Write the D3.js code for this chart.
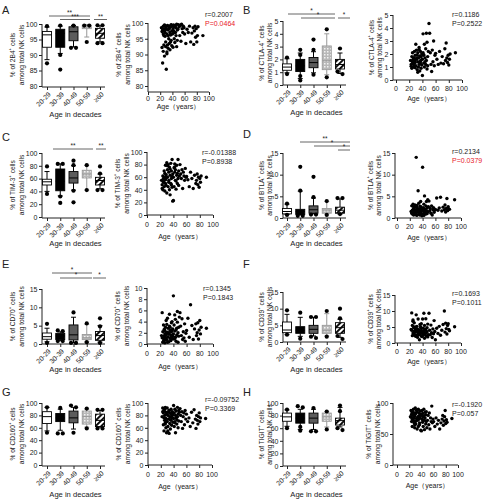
<!DOCTYPE html>
<html><head><meta charset="utf-8">
<script src="https://cdn.jsdelivr.net/npm/d3@7"></script>
<style>
body{margin:0;background:#fff}
svg{display:block}
text{font-family:"Liberation Sans",Arial,sans-serif;fill:#222}
</style>
</head><body><svg id="c" width="485" height="500"></svg>
<script>
// ---------------- DATA ----------------
const categories = ["20-29","30-39","40-49","50-59","≥60"];
const markers = ["2B4","CTLA-4","TIM-3","BTLA","CD70","CD39","CD160","TIGIT"];
const letters = ["A","B","C","D","E","F","G","H"];

const ages = [22,23,24,24,25,25,26,26,27,27,28,28,28,29,29,26,25,27,23,29,
  30,30,31,31,32,32,33,33,34,34,35,35,36,36,37,37,38,38,39,39,31,33,35,37,38,
  40,40,41,41,42,42,43,43,44,45,45,46,46,47,47,48,48,49,44,42,
  50,51,52,53,54,55,56,57,58,59,
  60,62,64,66,68,70,72,74,75,76,77,78,79,80,81,82,90];

const val2B4 = [98.5,92.2,97.8,87.3,96.5,99.0,93.0,98.2,97.5,89.5,99.2,95.8,97.0,92.5,98.8,96.0,91.0,99.4,97.3,94.0,
  98.0,85.3,90.2,96.5,99.2,93.0,97.8,92.0,98.5,95.0,99.0,93.5,97.0,91.5,98.8,96.2,94.5,99.3,92.8,97.5,90.8,96.0,98.2,94.0,99.5,
  99.0,96.5,98.2,92.3,97.5,99.4,95.0,98.8,93.8,97.0,99.2,96.0,98.5,92.5,99.6,97.8,94.5,98.0,99.1,96.8,
  99.5,98.8,96.0,99.2,94.2,99.6,98.2,97.0,99.0,98.5,
  96.5,93.5,98.0,97.0,99.0,94.0,96.8,98.5,93.2,97.5,99.0,95.5,98.2,94.0,96.0,98.8,96.0];
const valCTLA4 = [1.5,1.2,1.8,0.9,1.4,2.1,1.0,1.6,1.3,1.7,1.1,2.2,1.5,0.95,1.9,1.25,1.45,1.7,1.05,1.35,
  2.75,1.1,1.6,2.3,0.8,1.9,1.4,2.1,1.0,1.7,2.5,1.2,0.7,1.85,1.3,2.2,1.55,0.9,2.0,1.15,1.65,0.6,2.35,1.45,1.8,
  0.35,1.6,2.1,3.55,1.3,1.9,2.75,1.0,1.7,1.2,2.4,3.6,1.5,0.85,2.9,1.8,1.1,2.2,1.4,1.95,
  4.35,3.6,2.1,1.2,0.65,2.3,1.4,3.0,1.1,1.9,
  2.05,1.6,1.2,2.2,1.3,1.8,1.25,2.4,1.5,2.85,1.7,1.35,1.9,1.15,1.6,2.0,2.1];
const valTIM3 = [55,48,62,40,58,52,70,45,60,38,56,79,50,64,47,57,53,66,42,59,
  83,35,60,72,45,80,55,68,40,76,63,32,82,50,70,58,88,44,65,22,78,52,73,48,61,
  23,60,75,45,68,81,55,72,41,63,79,50,66,58,88,47,70,62,54,76,
  80,65,58,72,42,68,62,55,74,60,
  61,56,45,68,58,42,63,50,55,65,48,60,44,58,52,62,60];
const valBTLA = [1.5,2.8,0.9,1.8,3.2,1.2,2.2,0.7,1.6,2.5,1.0,1.9,3.0,1.3,0.8,2.1,1.4,2.6,1.1,1.7,
  1.2,14.0,2.5,0.6,1.8,2.2,6.3,1.5,3.4,0.9,2.0,1.3,2.7,0.7,1.7,3.8,1.1,2.3,0.5,1.9,2.9,1.4,0.8,2.6,1.6,
  11.7,1.9,2.4,0.8,3.2,1.5,5.1,2.1,1.2,2.8,0.9,1.7,3.8,2.3,1.0,1.4,4.2,2.6,1.8,0.6,
  3.9,1.6,2.2,1.1,2.8,0.7,1.9,2.4,1.3,1.8,
  2.0,4.6,1.8,2.3,4.8,1.6,2.5,1.9,3.0,1.4,2.2,4.5,1.7,2.6,2.1,2.0,4.2];
const valCD70 = [1.5,5.6,0.3,2.2,1.0,3.4,0.6,2.6,1.8,0.2,1.2,3.0,0.8,2.0,4.2,1.4,0.5,2.4,1.1,1.7,
  3.5,0.8,2.1,4.6,1.3,2.8,0.4,1.9,3.2,5.3,1.0,2.4,0.6,1.6,3.8,2.2,0.9,4.0,1.4,2.7,0.3,1.8,3.0,1.2,2.5,
  8.6,1.8,3.4,0.9,5.2,2.3,1.2,4.4,0.5,2.8,1.6,3.9,5.8,2.0,0.3,3.0,1.4,4.8,2.5,1.0,
  5.6,3.2,1.5,4.5,0.8,2.2,1.1,3.6,0.5,1.9,
  2.4,4.6,1.2,7.0,3.3,0.8,2.7,3.6,1.5,2.0,3.8,0.9,2.5,4.2,1.8,3.0,2.8];
const valCD39 = [4.2,9.4,2.3,5.5,3.1,7.2,2.8,4.8,3.6,6.3,2.5,3.9,5.0,2.1,4.5,3.3,6.8,2.7,4.0,3.5,
  8.8,2.4,3.8,5.2,1.8,4.4,3.0,7.5,2.6,4.0,3.4,1.0,5.8,2.9,3.6,4.8,2.2,6.0,3.2,2.0,4.2,3.5,2.7,5.0,3.9,
  7.5,3.0,4.6,2.4,9.3,3.7,1.5,5.5,2.8,4.1,7.6,3.3,2.2,4.8,3.5,1.9,5.9,2.6,4.3,3.1,
  9.3,4.0,2.6,5.6,3.2,1.7,4.4,2.9,7.0,3.6,
  1.0,4.6,3.0,5.2,2.4,4.0,5.8,10.0,3.4,6.2,4.5,2.8,5.5,6.0,4.2,3.8,5.1];
const valCD160 = [78,92,65,84,55,88,72,80,68,93,75,85,60,82,70,90,76,66,86,52,
  92,70,80,62,85,74,51,88,78,67,83,58,90,72,79,64,86,76,69,81,55,87,73,77,82,
  96,75,84,62,90,70,80,52,87,73,66,93,78,82,60,88,71,85,76,68,
  91,80,70,86,59,78,84,65,88,74,
  82,70,76,62,85,68,89,74,59,80,72,66,78,84,70,76,75];
const valTIGIT = [78,88,70,82,62,85,75,80,72,90,68,84,76,79,65,86,73,81,77,60,
  92,70,83,66,88,75,58,86,78,72,90,62,84,74,80,68,87,76,56,82,71,89,77,65,81,
  55,80,74,88,69,83,62,78,90,72,57,85,76,66,81,70,86,60,79,73,
  72,80,65,84,58,76,70,95,68,74,
  70,62,76,66,72,58,68,74,80,64,71,78,88,67,73,69,75];

// box stats per age group: [whisker low, Q1, median, Q3, whisker high]
const box2B4 = [[88.5,92.5,96.5,97.6,99.0],[90.5,92.5,97.0,98.3,99.3],[92.6,94.6,97.5,99.1,99.5],[95.8,98.5,99.0,99.6,99.8],[94.2,95.4,97.0,98.6,99.4]];
const out2B4 = [[99.3,87.3],[99.5,90.0,85.3],[99.5,92.3,92.3],[99.5,99.5,94.2],[99.6,99.6,93.8,93.8]];
const boxCTLA4 = [[0.95,1.15,1.4,1.65,2.05],[0.5,1.05,1.5,2.0,2.5],[0.95,1.35,1.75,2.15,2.6],[0.8,1.2,1.9,3.05,4.0],[0.9,1.25,1.6,2.0,2.5]];
const outCTLA4 = [[2.15,0.85],[2.75,2.35,0.7,0.35],[3.55,2.75,0.8],[4.35,0.6],[2.85,1.05,0.85]];
const boxTIM3 = [[40,50,55,59,71],[33,41,56,75,83],[42,53,61,71,80],[42,61,67,73,81],[44,50,57,62,67]];
const outTIM3 = [[79,36],[83,83,32,22],[88,81,41,23],[81,42],[79,68,42,42]];
const boxBTLA = [[0.8,0.95,1.5,2.2,3.2],[0.7,0.8,1.5,2.0,6.2],[1.0,1.1,1.9,2.8,4.6],[0.9,1.1,1.8,2.2,3.8],[0.9,1.1,1.8,2.5,4.4]];
const outBTLA = [[3.3,0.7],[11.8,6.3,0.5,0.5],[9.5,4.8,0.8,0.8],[3.9,0.7],[4.6,4.6,0.9]];
const boxCD70 = [[0.6,1.3,2.0,3.0,4.3],[0.9,1.2,2.2,2.9,3.3],[0.4,1.1,2.5,5.2,7.3],[0.7,1.2,1.7,2.6,5.4],[0.5,1.0,2.3,3.4,5.0]];
const outCD70 = [[5.5,0.3],[3.7,3.5,0.8,0.8],[8.6,0.3,0.3],[5.6,0.5],[7.0,4.8,0.3]];
const boxCD39 = [[2.2,2.8,3.6,6.0,8.3],[1.7,2.6,3.5,4.6,7.4],[1.8,2.6,3.8,5.0,7.4],[1.8,2.6,3.5,5.0,8.5],[1.4,2.6,4.3,5.8,6.8]];
const outCD39 = [[9.5,2.2],[8.8,1.0],[7.5,7.5,1.6,1.2],[9.3,1.6],[10.0,7.1,1.8,0.9]];
const boxCD160 = [[55,67,78,86,93],[56,70,76,83,90],[58,68,76,87,93],[61,66,78,87,90],[61,62,72,82,88]];
const outCD160 = [[93,52],[92,51,51],[96,93,52],[91,59],[89,89,59,59]];
const boxTIGIT = [[63,71,78,84,89],[58,68,76,84,90],[58,68,76,84,90],[62,71,78,84,86],[62,65,72,76,93]];
const outTIGIT = [[89.5,60],[95,93,62,56],[92,55,55],[86.5,58],[96,87,60,57]];

// significance labels
const sig2B4 = ["**","***","**"];
const sigCTLA4 = ["*","*","*"];
const sigTIM3 = ["**","**"];
const sigBTLA = ["**","*","*"];
const sigCD70 = ["*","*","*"];

// correlation texts
const rTexts = ["r=0.2007","r=0.1186","r=-0.01388","r=0.2134","r=0.1345","r=0.1693","r=-0.09752","r=-0.1920"];
const pTexts = ["P=0.0464","P=0.2522","P=0.8938","P=0.0379","P=0.1843","P=0.1011","P=0.3369","P=0.057"];
const pSignificant = [true,false,false,true,false,false,false,false];

// tick values
const ticks2B4 = [80,85,90,95,100];
const ticksCTLA4 = [0,1,2,3,4,5];
const ticks0to100 = [0,20,40,60,80,100];
const ticks0to15 = [0,5,10,15];
const ticksCD70sc = [0,2,4,6,8,10];
const ticksTIGITsc = [0,50,100];
const ageTicks = [0,20,40,60,80,100];

// ---------------- LAYOUT ----------------
const L = {yl:[12,21], cx:[47,100], yAx:42, axEnd:105};
const R = {yl:[261,269], cx:[287,340], yAx:283, axEnd:346};
const panels = [
 {i:0, vals:val2B4, box:box2B4, out:out2B4, sig:sig2B4, bt:ticks2B4, st:ticks2B4,
  lx:2, ly:14, col:L,
  bx:{yTop:24, yBot:86, axisY:87, dom:[80,100], xlabY:117},
  sigG:[[49,90,16],[60,90,19.5],[94,107,19.5]],
  sc:{yAx:148, x0:148, x1:209, yTop:23, yBot:86, axisY:92, dom:[80,100], yl:[118,127], tickY:101, xlabY:109, rx:205, ry:17}},
 {i:1, vals:valCTLA4, box:boxCTLA4, out:outCTLA4, sig:sigCTLA4, bt:ticksCTLA4, st:ticksCTLA4,
  lx:243, ly:14, col:R,
  bx:{yTop:21, yBot:85, axisY:85, dom:[0,5], xlabY:115},
  sigG:[[288,335,14],[301,335,18],[338,350,18]],
  sc:{yAx:393, x0:396, x1:462, yTop:15, yBot:80, axisY:80, dom:[0,5], yl:[371,379], tickY:91, xlabY:101, rx:452, ry:17}},
 {i:2, vals:valTIM3, box:boxTIM3, out:outTIM3, sig:sigTIM3, bt:ticks0to100, st:ticks0to100,
  lx:2, ly:141, col:L,
  bx:{yTop:153, yBot:217, axisY:218, dom:[0,100], xlabY:246},
  sigG:[[53,93,149],[96,106,149]],
  sc:{yAx:147, x0:147, x1:213, yTop:152, yBot:215, axisY:215, dom:[0,100], yl:[117,126], tickY:227, xlabY:239, rx:202, ry:155}},
 {i:3, vals:valBTLA, box:boxBTLA, out:outBTLA, sig:sigBTLA, bt:ticks0to15, st:ticks0to15,
  lx:243, ly:138, col:R,
  bx:{yTop:153, yBot:218, axisY:218, dom:[0,15], xlabY:246},
  sigG:[[300,350,142],[314,350,146],[338,350,150]],
  sc:{yAx:395, x0:397, x1:461, yTop:153, yBot:218, axisY:218, dom:[0,15], yl:[370,378], tickY:229, xlabY:240, rx:452, ry:154}},
 {i:4, vals:valCD70, box:boxCD70, out:outCD70, sig:sigCD70, bt:ticks0to15, st:ticksCD70sc,
  lx:2, ly:268, col:L,
  bx:{yTop:289, yBot:344, axisY:344, dom:[0,15], xlabY:372},
  sigG:[[52,92,273],[60,92,278],[93,106,278]],
  sc:{yAx:147, x0:147, x1:213, yTop:288, yBot:344, axisY:344, dom:[0,10], yl:[117,126], tickY:356, xlabY:369, rx:203, ry:291}},
 {i:5, vals:valCD39, box:boxCD39, out:outCD39, sig:[], bt:ticks0to15, st:ticks0to15,
  lx:243, ly:268, col:R,
  bx:{yTop:292, yBot:342, axisY:342, dom:[0,15], xlabY:372},
  sigG:[],
  sc:{yAx:395, x0:397, x1:461, yTop:295, yBot:343, axisY:343, dom:[0,15], yl:[370,378], tickY:354, xlabY:364, rx:452, ry:296}},
 {i:6, vals:valCD160, box:boxCD160, out:outCD160, sig:[], bt:ticks0to100, st:ticks0to100,
  lx:2, ly:396, col:L,
  bx:{yTop:403, yBot:465, axisY:466, dom:[0,100], xlabY:497},
  sigG:[],
  sc:{yAx:148, x0:148, x1:212, yTop:403, yBot:465, axisY:465, dom:[0,100], yl:[118,127], tickY:477, xlabY:489, rx:205, ry:402}},
 {i:7, vals:valTIGIT, box:boxTIGIT, out:outTIGIT, sig:[], bt:ticks0to100, st:ticksTIGITsc,
  lx:243, ly:396, col:R,
  bx:{yTop:403, yBot:466, axisY:466, dom:[0,100], xlabY:497},
  sigG:[],
  sc:{yAx:393, x0:397, x1:458, yTop:403, yBot:465, axisY:465, dom:[0,100], yl:[368,377], tickY:477, xlabY:488, rx:452, ry:407}}
];

const groupStyle = [
 {fill:"#fff", stroke:"#000"},
 {fill:"#000", stroke:"#000"},
 {fill:"#5c5c5c", stroke:"#000"},
 {fill:"url(#dots)", stroke:"#999"},
 {fill:"url(#hatch)", stroke:"#000"}
];

// ---------------- DRAW ----------------
const svg = d3.select("#c");
svg.append("rect").attr("width",485).attr("height",500).attr("fill","#fff");
const defs = svg.append("defs");
const dp = defs.append("pattern").attr("id","dots").attr("patternUnits","userSpaceOnUse").attr("width",3).attr("height",3);
dp.append("rect").attr("width",3).attr("height",3).attr("fill","#b8b8b8");
dp.append("rect").attr("width",1.5).attr("height",1.5).attr("fill","#f2f2f2");
const hp = defs.append("pattern").attr("id","hatch").attr("patternUnits","userSpaceOnUse").attr("width",4).attr("height",4).attr("patternTransform","rotate(45)");
hp.append("rect").attr("width",4).attr("height",4).attr("fill","#fff");
hp.append("rect").attr("width",1.9).attr("height",4).attr("fill","#000");

function yLabel(g, x1, x2, yc, marker, fs){
  const t1 = g.append("text").attr("transform",`translate(${x1},${yc}) rotate(-90)`)
    .attr("text-anchor","middle").attr("dominant-baseline","central").attr("font-size",fs);
  t1.append("tspan").text("% of " + marker);
  t1.append("tspan").attr("baseline-shift","super").attr("font-size",fs*0.65).text("+");
  t1.append("tspan").text(" cells");
  g.append("text").attr("transform",`translate(${x2},${yc}) rotate(-90)`)
    .attr("text-anchor","middle").attr("dominant-baseline","central").attr("font-size",fs)
    .text("among total NK cells");
}

function yAxisDraw(g, x, yScale, ticks, yTop, yEnd){
  const ax = g.append("g").attr("transform",`translate(${x},0)`)
    .call(d3.axisLeft(yScale).tickValues(ticks).tickSize(3).tickPadding(1.5).tickFormat(d3.format("d")));
  ax.select(".domain").remove();
  ax.selectAll("text").attr("font-size",7).attr("fill","#222").attr("font-family","Liberation Sans, Arial, sans-serif");
  ax.selectAll("line").attr("stroke","#222");
  g.append("line").attr("x1",x).attr("x2",x).attr("y1",yTop).attr("y2",yEnd).attr("stroke","#222");
}

panels.forEach(p=>{
  const g = svg.append("g");
  const marker = markers[p.i];
  g.append("text").attr("x",p.lx).attr("y",p.ly).attr("font-size",11).text(letters[p.i]);

  // ---- box plot ----
  const b = p.bx, col = p.col;
  const y = d3.scaleLinear().domain(b.dom).range([b.yBot,b.yTop]);
  const x = d3.scalePoint().domain(categories).range(col.cx);
  yAxisDraw(g, col.yAx, y, p.bt, b.yTop, b.axisY);
  const xa = g.append("g").attr("transform",`translate(0,${b.axisY})`)
    .call(d3.axisBottom(x).tickSize(3).tickFormat(""));
  xa.select(".domain").remove();
  xa.selectAll("line").attr("stroke","#222");
  g.append("line").attr("x1",col.yAx).attr("x2",col.axEnd).attr("y1",b.axisY).attr("y2",b.axisY).attr("stroke","#222");
  categories.forEach(c=>{
    g.append("text").attr("transform",`translate(${x(c)+2.5},${b.axisY+6}) rotate(-45)`)
      .attr("text-anchor","end").attr("dominant-baseline","central").attr("font-size",6.8).text(c);
  });
  g.append("text").attr("x",(col.yAx+col.axEnd)/2+2).attr("y",b.xlabY).attr("text-anchor","middle")
    .attr("font-size",7.6).text("Age in decades");
  yLabel(g, col.yl[0], col.yl[1], (b.yTop+b.yBot)/2, marker, 6.6);

  const bw = 9, cw = 5;
  p.box.forEach((s,k)=>{
    const cx = x(categories[k]), st = groupStyle[k];
    const [lo,q1,md,q3,hi] = s;
    g.append("line").attr("x1",cx).attr("x2",cx).attr("y1",y(hi)).attr("y2",y(q3)).attr("stroke",st.stroke);
    g.append("line").attr("x1",cx).attr("x2",cx).attr("y1",y(q1)).attr("y2",y(lo)).attr("stroke",st.stroke);
    g.append("line").attr("x1",cx-cw/2).attr("x2",cx+cw/2).attr("y1",y(hi)).attr("y2",y(hi)).attr("stroke",st.stroke);
    g.append("line").attr("x1",cx-cw/2).attr("x2",cx+cw/2).attr("y1",y(lo)).attr("y2",y(lo)).attr("stroke",st.stroke);
    g.append("rect").attr("x",cx-bw/2).attr("y",y(q3)).attr("width",bw).attr("height",Math.max(0.5,y(q1)-y(q3)))
      .attr("fill",st.fill).attr("stroke",st.stroke).attr("stroke-width",0.9);
    g.append("line").attr("x1",cx-bw/2).attr("x2",cx+bw/2).attr("y1",y(md)).attr("y2",y(md))
      .attr("stroke",st.stroke).attr("stroke-width",1);
    const pts = p.out[k].map(v=>({v, py:y(v)})).sort((a,b)=>a.py-b.py);
    const clusters = [];
    pts.forEach(pt=>{
      const last = clusters[clusters.length-1];
      if(last && Math.abs(pt.py-last[last.length-1].py) < 3) last.push(pt); else clusters.push([pt]);
    });
    clusters.forEach(cl=>{
      cl.forEach((pt,j)=>{
        const off = (j-(cl.length-1)/2)*5;
        g.append("circle").attr("cx",cx+off).attr("cy",pt.py).attr("r",2.1).attr("fill","#000");
      });
    });
  });
  p.sigG.forEach((sg,j)=>{
    g.append("line").attr("x1",sg[0]).attr("x2",sg[1]).attr("y1",sg[2]).attr("y2",sg[2]).attr("stroke","#555").attr("stroke-width",0.9);
    g.append("text").attr("x",(sg[0]+sg[1])/2).attr("y",sg[2]-0.8).attr("text-anchor","middle")
      .attr("font-size",6.5).attr("fill","#444").text(p.sig[j]);
  });

  // ---- scatter ----
  const s = p.sc;
  const sy = d3.scaleLinear().domain(s.dom).range([s.yBot,s.yTop]);
  const sx = d3.scaleLinear().domain([0,100]).range([s.x0,s.x1]);
  yAxisDraw(g, s.yAx, sy, p.st, s.yTop, s.axisY);
  const sxa = g.append("g").attr("transform",`translate(0,${s.axisY})`)
    .call(d3.axisBottom(sx).tickValues(ageTicks).tickSize(3).tickFormat(""));
  sxa.select(".domain").remove();
  sxa.selectAll("line").attr("stroke","#222");
  g.append("line").attr("x1",s.yAx).attr("x2",s.x1).attr("y1",s.axisY).attr("y2",s.axisY).attr("stroke","#222");
  ageTicks.forEach(t=>{
    g.append("text").attr("x",sx(t)).attr("y",s.tickY).attr("text-anchor","middle").attr("font-size",7).text(t);
  });
  g.append("text").attr("x",(s.x0+s.x1)/2).attr("y",s.xlabY).attr("text-anchor","middle").attr("font-size",7)
    .text("Age（years）");
  yLabel(g, s.yl[0], s.yl[1], (s.yTop+s.yBot)/2, marker, 6.6);
  g.selectAll(null).data(ages.map((a,j)=>[a,p.vals[j]])).enter().append("circle")
    .attr("cx",d=>sx(d[0])).attr("cy",d=>sy(d[1])).attr("r",1.7).attr("fill","#000");
  g.append("text").attr("x",s.rx).attr("y",s.ry).attr("font-size",7).text(rTexts[p.i]);
  g.append("text").attr("x",s.rx).attr("y",s.ry+8.5).attr("font-size",7)
    .style("fill",pSignificant[p.i]?"#e8202a":"#222").text(pTexts[p.i]);
});
</script></body></html>
